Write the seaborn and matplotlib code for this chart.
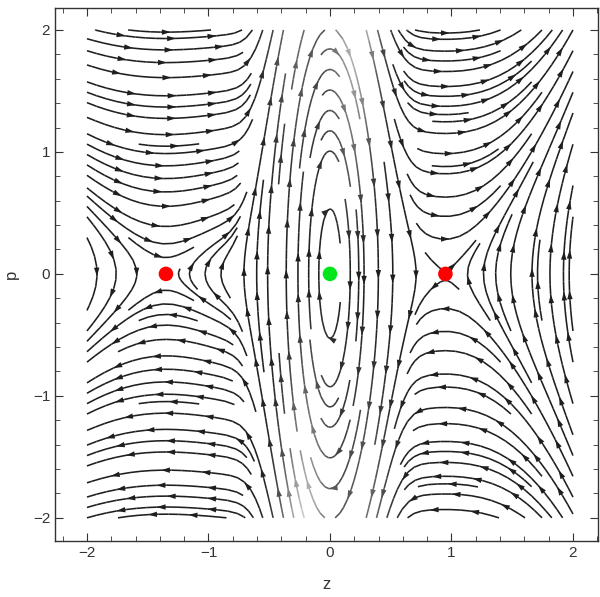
import numpy as np
import pandas as pd
import matplotlib
matplotlib.use("Agg")
import matplotlib.pyplot as plt
import seaborn as sns
from matplotlib.colors import LinearSegmentedColormap, Normalize
from matplotlib.patches import FancyArrowPatch
from matplotlib.ticker import MultipleLocator

# fixed points of the flow
fixed_z = [-1.35, 0.0, 0.95]
fixed_p = [0.0, 0.0, 0.0]
fixed_kind = ["saddle", "center", "saddle"]

# field parameters: dz/dt = p, dp/dt = z (z - z1)(z - z2) h(z)
saddle_left = -1.35
saddle_right = 0.95
h_base = 0.33
h_tilt = 0.09
h_peak = 25.0
h_width = 0.55

ticks = [-2, -1, 0, 1, 2]
tick_labels = ["\u22122", "\u22121", "0", "1", "2"]

sns.set_style("ticks")
plt.rcParams["font.family"] = ["Liberation Sans", "DejaVu Sans"]

fig = plt.figure(figsize=(6.0, 5.97), dpi=100)
ax = fig.add_axes([0.0917, 0.0938, 0.905, 0.8928])

zz = np.linspace(-2, 2, 240)
pp = np.linspace(-2, 2, 240)
Z, P = np.meshgrid(zz, pp)
H = h_base + h_tilt * Z + h_peak * np.exp(-(Z / h_width) ** 4)
U = P
V = Z * (Z - saddle_left) * (Z - saddle_right) * H

# shading: streams fade where the flow runs fast and vertical near z = 0
ap = (np.abs(P) / 2) ** 1.3
shade = ap * np.exp(-((Z - 0.2 * np.sign(P)) / 0.2) ** 2)
shade += 0.5 * ap * np.exp(-((Z + 0.3 * np.sign(P)) / 0.22) ** 2)

cmap = LinearSegmentedColormap.from_list("grey", ["#1e1e1e", "#c8c8c8"])
norm = Normalize(vmin=0, vmax=1)

sp = ax.streamplot(zz, pp, U, V, density=1.6, color=shade, cmap=cmap, norm=norm,
                   linewidth=1.15, arrowsize=1.0, minlength=0.12)
for patch in list(ax.patches):
    patch.remove()

# several arrow heads along every stream line, like a Mathematica StreamPlot
segs = sp.lines.get_segments()
seg_cols = cmap(norm(sp.lines.get_array()))
lines, cur = [], [0]
for i in range(1, len(segs)):
    if np.allclose(segs[i][0], segs[i - 1][1]):
        cur.append(i)
    else:
        lines.append(cur)
        cur = [i]
lines.append(cur)

step = 0.36
for idx in lines:
    pts = np.vstack([segs[idx[0]][0]] + [segs[j][1] for j in idx])
    d = np.hypot(*np.diff(pts, axis=0).T)
    s = np.concatenate([[0], np.cumsum(d)])
    if s[-1] < 0.15:
        continue
    n = max(1, int(s[-1] / step))
    offs = (s[-1] - (n - 1) * step) / 2
    for k in range(n):
        sk = offs + k * step
        j = min(np.searchsorted(s, sk), len(pts) - 1)
        j = max(j, 1)
        a = FancyArrowPatch(pts[j - 1], pts[j],
                            arrowstyle="-|>,head_length=0.9,head_width=0.28",
                            mutation_scale=7, color=seg_cols[idx[j - 1]],
                            linewidth=0, shrinkA=0, shrinkB=0, zorder=3)
        ax.add_patch(a)

pts_df = pd.DataFrame({"z": fixed_z, "p": fixed_p, "kind": fixed_kind})
sns.scatterplot(data=pts_df, x="z", y="p", hue="kind",
                palette={"saddle": "#ff0000", "center": "#00e61a"},
                s=110, edgecolor="none", legend=False, zorder=5, ax=ax)

ax.set_xlim(-2.263, 2.206)
ax.set_ylim(-2.19, 2.18)
ax.set_xticks(ticks)
ax.set_yticks(ticks)
ax.set_xticklabels(tick_labels)
ax.set_yticklabels(tick_labels)
ax.xaxis.set_minor_locator(MultipleLocator(0.2))
ax.yaxis.set_minor_locator(MultipleLocator(0.2))
ax.tick_params(which="both", direction="in", top=True, right=True,
               labelsize=11, color="#333333", labelcolor="#333333")
ax.tick_params(which="major", length=6, width=0.8)
ax.tick_params(which="minor", length=3.5, width=0.6)
for s in ax.spines.values():
    s.set_color("#333333")
    s.set_linewidth(1.0)
ax.set_xlabel("z", fontsize=12, color="#333333", labelpad=12)
ax.set_ylabel("p", fontsize=12, color="#333333", labelpad=10)

fig.savefig("out.png", dpi=100)
